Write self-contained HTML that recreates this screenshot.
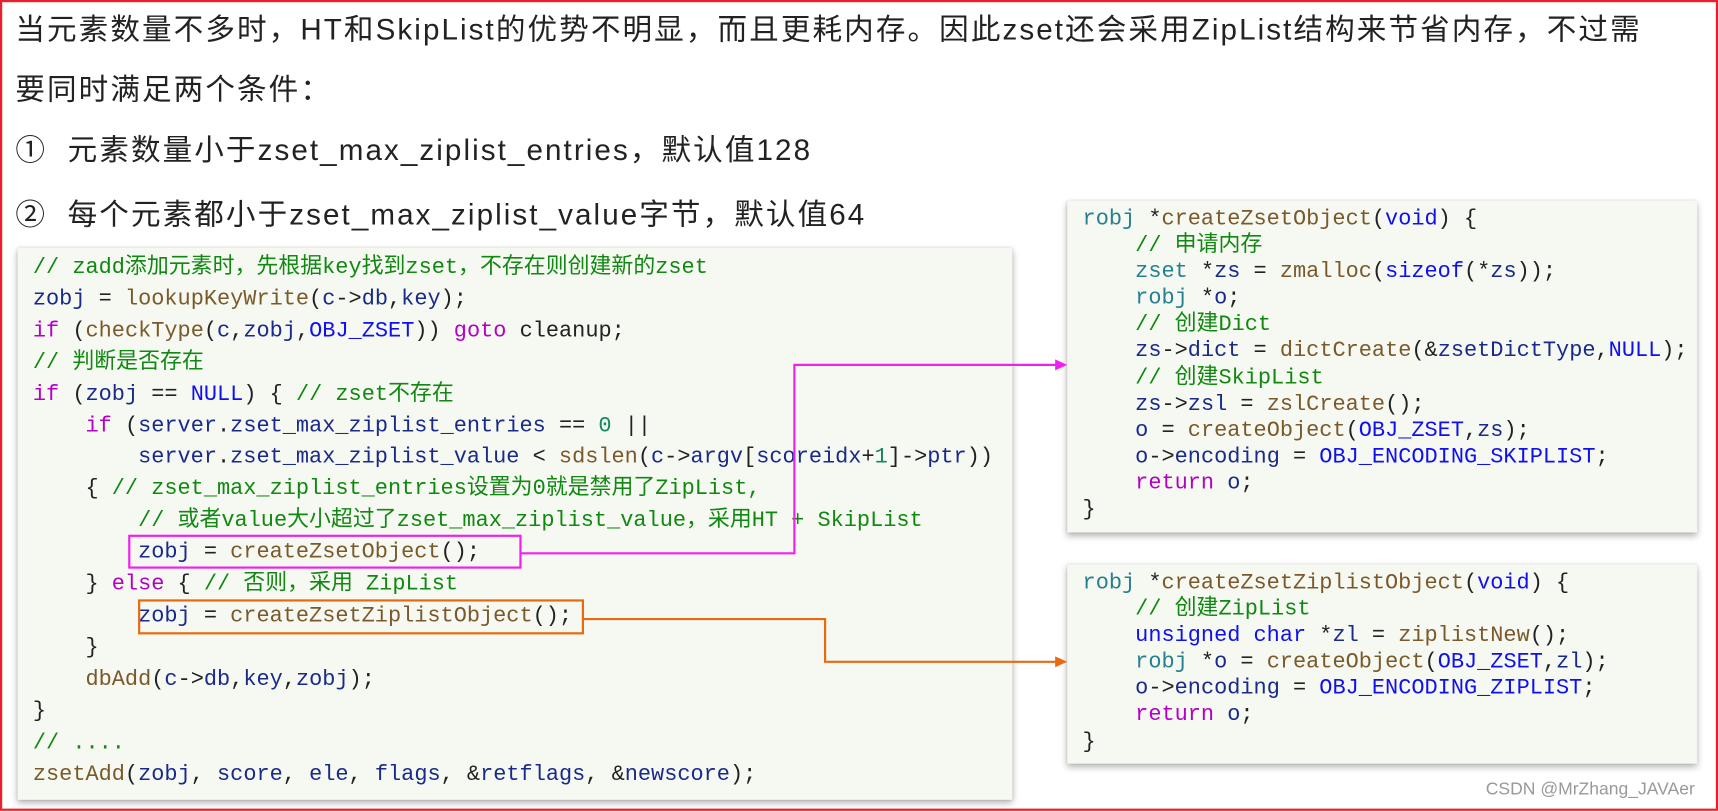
<!DOCTYPE html>
<html><head><meta charset="utf-8"><style>
html,body{margin:0;padding:0;background:#fff;width:1718px;height:811px;overflow:hidden}
#w{position:absolute;left:0;top:0;width:1568px;height:740px;transform:scale(1.0957);transform-origin:0 0}
.bd{position:absolute;left:0;top:0;width:1564px;height:736px;border:2px solid #e8202a}
.h{position:absolute;left:14px;font-family:"Liberation Sans","Noto Sans CJK SC",sans-serif;font-size:27px;color:#222;white-space:nowrap;line-height:30px;letter-spacing:1.9px}
.box{position:absolute;background:#f6f8f2;box-shadow:0 3px 6px rgba(0,0,0,0.3),0 0 2px rgba(0,0,0,0.15)}
pre{margin:0;position:absolute;font-family:"Liberation Mono","Noto Sans CJK SC",monospace;font-size:20px;color:#222}
.c{color:#118811}.k{color:#b400c8}.f{color:#7a5a2a}.v{color:#1a2a8a}.b{color:#1010ee}.t{color:#26808f}.n{color:#108860}
.hl{position:absolute;border:2px solid}
.wm{position:absolute;left:1356px;top:712px;font-family:"Liberation Sans","Noto Sans CJK SC",sans-serif;font-size:16px;color:#999}
</style></head><body><div id="w">
<div class="bd"></div>
<div class="h" style="top:12px">当元素数量不多时，HT和SkipList的优势不明显，而且更耗内存。因此zset还会采用ZipList结构来节省内存，不过需</div>
<div class="h" style="top:67px">要同时满足两个条件：</div>
<div class="h" style="top:122px">①&nbsp; 元素数量小于zset_max_ziplist_entries，默认值128</div>
<div class="h" style="top:181px">②&nbsp; 每个元素都小于zset_max_ziplist_value字节，默认值64</div>

<div class="box" style="left:16px;top:226px;width:908px;height:504px"></div>
<pre style="left:30px;top:231px;line-height:28.9px"><span class="c">// zadd添加元素时，先根据key找到zset，不存在则创建新的zset</span>
<span class="v">zobj</span> = <span class="f">lookupKeyWrite</span>(<span class="v">c</span>-&gt;<span class="v">db</span>,<span class="v">key</span>);
<span class="k">if</span> (<span class="f">checkType</span>(<span class="v">c</span>,<span class="v">zobj</span>,<span class="b">OBJ_ZSET</span>)) <span class="k">goto</span> cleanup;
<span class="c">// 判断是否存在</span>
<span class="k">if</span> (<span class="v">zobj</span> == <span class="b">NULL</span>) { <span class="c">// zset不存在</span>
    <span class="k">if</span> (<span class="v">server</span>.<span class="v">zset_max_ziplist_entries</span> == <span class="n">0</span> ||
        <span class="v">server</span>.<span class="v">zset_max_ziplist_value</span> &lt; <span class="f">sdslen</span>(<span class="v">c</span>-&gt;<span class="v">argv</span>[<span class="v">scoreidx</span>+<span class="n">1</span>]-&gt;<span class="v">ptr</span>))
    { <span class="c">// zset_max_ziplist_entries设置为0就是禁用了ZipList,</span>
        <span class="c">// 或者value大小超过了zset_max_ziplist_value，采用HT + SkipList</span>
        <span class="v">zobj</span> = <span class="f">createZsetObject</span>();
    } <span class="k">else</span> { <span class="c">// 否则，采用 ZipList</span>
        <span class="v">zobj</span> = <span class="f">createZsetZiplistObject</span>();
    }
    <span class="f">dbAdd</span>(<span class="v">c</span>-&gt;<span class="v">db</span>,<span class="v">key</span>,<span class="v">zobj</span>);
}
<span class="c">// ....</span>
<span class="f">zsetAdd</span>(<span class="v">zobj</span>, <span class="v">score</span>, <span class="v">ele</span>, <span class="v">flags</span>, &amp;<span class="v">retflags</span>, &amp;<span class="v">newscore</span>);</pre>

<div class="box" style="left:974px;top:183px;width:575px;height:303px"></div>
<pre style="left:988px;top:189px;line-height:24.1px"><span class="t">robj</span> *<span class="f">createZsetObject</span>(<span class="b">void</span>) {
    <span class="c">// 申请内存</span>
    <span class="t">zset</span> *<span class="v">zs</span> = <span class="f">zmalloc</span>(<span class="b">sizeof</span>(*<span class="v">zs</span>));
    <span class="t">robj</span> *<span class="v">o</span>;
    <span class="c">// 创建Dict</span>
    <span class="v">zs</span>-&gt;<span class="v">dict</span> = <span class="f">dictCreate</span>(&amp;<span class="v">zsetDictType</span>,<span class="b">NULL</span>);
    <span class="c">// 创建SkipList</span>
    <span class="v">zs</span>-&gt;<span class="v">zsl</span> = <span class="f">zslCreate</span>();
    <span class="v">o</span> = <span class="f">createObject</span>(<span class="b">OBJ_ZSET</span>,<span class="v">zs</span>);
    <span class="v">o</span>-&gt;<span class="v">encoding</span> = <span class="b">OBJ_ENCODING_SKIPLIST</span>;
    <span class="k">return</span> <span class="v">o</span>;
}</pre>

<div class="box" style="left:974px;top:515px;width:575px;height:182px"></div>
<pre style="left:988px;top:521px;line-height:24.1px"><span class="t">robj</span> *<span class="f">createZsetZiplistObject</span>(<span class="b">void</span>) {
    <span class="c">// 创建ZipList</span>
    <span class="b">unsigned char</span> *<span class="v">zl</span> = <span class="f">ziplistNew</span>();
    <span class="t">robj</span> *<span class="v">o</span> = <span class="f">createObject</span>(<span class="b">OBJ_ZSET</span>,<span class="v">zl</span>);
    <span class="v">o</span>-&gt;<span class="v">encoding</span> = <span class="b">OBJ_ENCODING_ZIPLIST</span>;
    <span class="k">return</span> <span class="v">o</span>;
}</pre>

<div class="hl" style="left:117px;top:488px;width:355px;height:27px;border-color:#f020f0"></div>
<div class="hl" style="left:126px;top:547px;width:403px;height:28px;border-color:#e86a10"></div>
<svg style="position:absolute;left:0;top:0" width="1568" height="740">
<polyline points="476,505 725,505 725,333 965,333" fill="none" stroke="#f020f0" stroke-width="2"/>
<polygon points="974,333 963,328 963,338" fill="#f020f0"/>
<polyline points="533,565 753,565 753,604 965,604" fill="none" stroke="#e86a10" stroke-width="2"/>
<polygon points="974,604 963,599 963,609" fill="#e86a10"/>
</svg>
<div class="wm">CSDN @MrZhang_JAVAer</div>
</div></body></html>
